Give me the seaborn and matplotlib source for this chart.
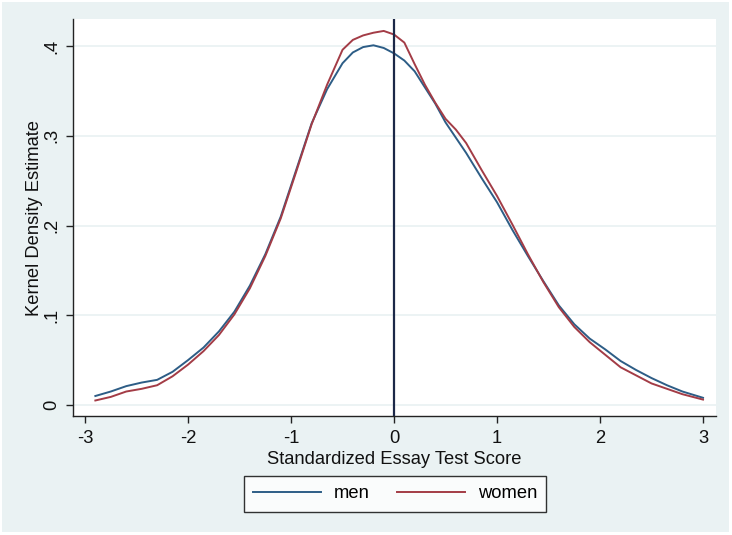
import numpy as np
import pandas as pd
import matplotlib
matplotlib.use("Agg")
import matplotlib.pyplot as plt
from matplotlib.patches import Rectangle
from matplotlib.lines import Line2D
import seaborn as sns

# ---- data ----
score = [-2.9, -2.75, -2.6, -2.45, -2.3, -2.15, -2.0, -1.85, -1.7, -1.55, -1.4,
         -1.25, -1.1, -0.95, -0.8, -0.65, -0.5, -0.4, -0.3, -0.2, -0.1, 0.0,
         0.1, 0.2, 0.3, 0.4, 0.5, 0.6, 0.7, 0.85, 1.0, 1.15, 1.3, 1.45, 1.6,
         1.75, 1.9, 2.05, 2.2, 2.35, 2.5, 2.65, 2.8, 3.0]
men = [0.010, 0.015, 0.021, 0.025, 0.028, 0.037, 0.050, 0.064, 0.082, 0.104,
       0.133, 0.168, 0.210, 0.262, 0.314, 0.352, 0.381, 0.393, 0.399, 0.401,
       0.398, 0.392, 0.384, 0.372, 0.354, 0.336, 0.315, 0.298, 0.281, 0.253,
       0.226, 0.195, 0.166, 0.138, 0.111, 0.090, 0.074, 0.062, 0.049, 0.039,
       0.030, 0.022, 0.015, 0.008]
women = [0.005, 0.009, 0.015, 0.018, 0.022, 0.032, 0.045, 0.060, 0.078, 0.101,
         0.130, 0.166, 0.208, 0.260, 0.313, 0.357, 0.396, 0.407, 0.412, 0.415,
         0.417, 0.413, 0.404, 0.380, 0.357, 0.337, 0.319, 0.307, 0.292, 0.262,
         0.233, 0.201, 0.168, 0.137, 0.109, 0.087, 0.070, 0.056, 0.042, 0.033,
         0.024, 0.018, 0.012, 0.006]
groups = ["men", "women"]
x_ticks = [-3, -2, -1, 0, 1, 2, 3]
x_tick_labels = ["-3", "-2", "-1", "0", "1", "2", "3"]
y_ticks = [0, 0.1, 0.2, 0.3, 0.4]
y_tick_labels = ["0", ".1", ".2", ".3", ".4"]

df = pd.DataFrame({
    "score": score * 2,
    "density": men + women,
    "group": ["men"] * len(men) + ["women"] * len(women),
})

plt.rcParams["font.family"] = ["Liberation Sans", "DejaVu Sans"]
plt.rcParams["axes.unicode_minus"] = False

FS = 13.2
BG = "#eaf2f3"
fig = plt.figure(figsize=(7.32, 5.35), dpi=100, facecolor="white")
bg = Rectangle((2 / 732, 3 / 535), 727 / 732, 530 / 535,
               transform=fig.transFigure, facecolor=BG,
               edgecolor="none", zorder=-10)
fig.add_artist(bg)

ax = fig.add_axes([73 / 732, 1 - 416 / 535, (716 - 73) / 732, (416 - 19) / 535])
ax.set_zorder(1)
ax.set_facecolor("white")

palette = {"men": "#2d5d86", "women": "#a33c46"}
sns.lineplot(data=df, x="score", y="density", hue="group", hue_order=groups,
             palette=palette, linewidth=1.4, ax=ax, legend=False, zorder=3)

ax.axvline(0, color="#1c2848", linewidth=1.6, zorder=4)

ax.set_xlim(-3.117, 3.126)
ax.set_ylim(-0.0123, 0.4303)
ax.set_xticks(x_ticks)
ax.set_xticklabels(x_tick_labels)
ax.set_yticks(y_ticks)
ax.set_yticklabels(y_tick_labels, rotation=90, va="center")

for y in y_ticks:
    ax.axhline(y, color=BG, linewidth=1.3, zorder=1)

for s in ["top", "right"]:
    ax.spines[s].set_visible(False)
for s in ["left", "bottom"]:
    ax.spines[s].set_color("#222222")
    ax.spines[s].set_linewidth(1.0)

ax.tick_params(axis="both", direction="out", length=5, width=1.0,
               color="#222222", labelsize=FS, labelcolor="#111111")
ax.tick_params(axis="x", pad=5)
ax.tick_params(axis="y", pad=4)

ax.set_xlabel("Standardized Essay Test Score", fontsize=FS, color="#111111",
              labelpad=3)
ax.set_ylabel("Kernel Density Estimate", fontsize=FS, color="#111111")
ax.yaxis.set_label_coords(-0.047, 0.5)

handles = [Line2D([0], [0], color=palette[g], linewidth=1.4) for g in groups]
leg = fig.legend(handles, groups, loc="center", ncol=2,
                 bbox_to_anchor=(395 / 732, 1 - 494 / 535),
                 frameon=True, fancybox=False, edgecolor="black",
                 facecolor="white", fontsize=FS, handlelength=3.7,
                 handletextpad=0.7, columnspacing=1.5, borderpad=0.5,
                 borderaxespad=0)
leg.get_frame().set_linewidth(1.0)
leg.set_zorder(5)

fig.savefig("out.png", dpi=100, facecolor="white")
